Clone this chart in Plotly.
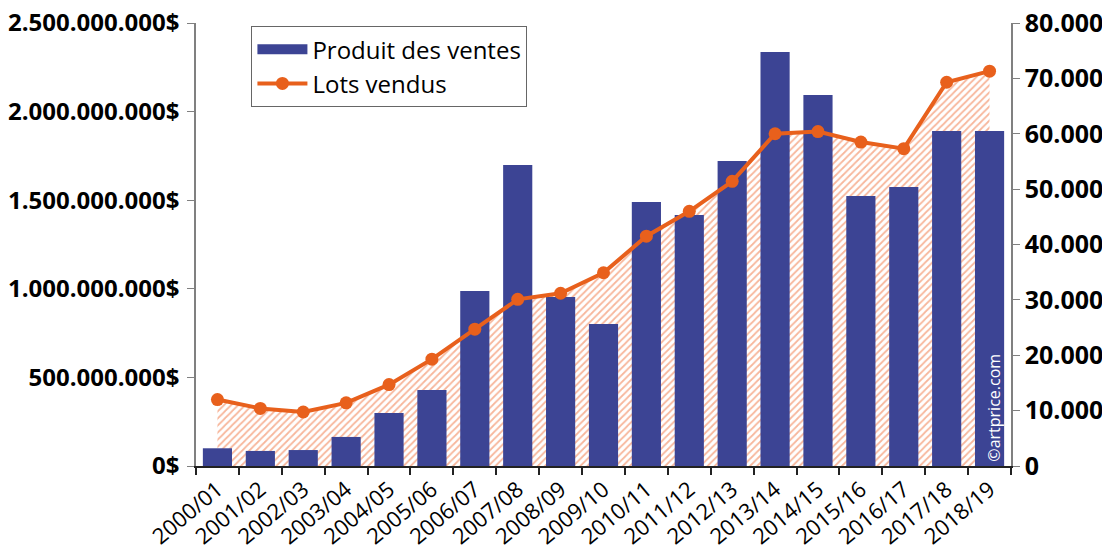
import plotly.graph_objects as go

categories = ["2000/01", "2001/02", "2002/03", "2003/04", "2004/05", "2005/06", "2006/07",
              "2007/08", "2008/09", "2009/10", "2010/11", "2011/12", "2012/13", "2013/14",
              "2014/15", "2015/16", "2016/17", "2017/18", "2018/19"]
produit_ventes = [100e6, 85e6, 90e6, 164e6, 299e6, 429e6, 988e6, 1699e6, 954e6, 801e6,
                  1490e6, 1416e6, 1721e6, 2336e6, 2094e6, 1524e6, 1575e6, 1890e6, 1890e6]
lots_vendus = [12000, 10400, 9750, 11400, 14700, 19300, 24700, 30100, 31200, 34900,
               41500, 46000, 51400, 60000, 60400, 58500, 57300, 69300, 71300]
money_ticks = [0, 5e8, 1e9, 1.5e9, 2e9, 2.5e9]
money_labels = ["0$", "500.000.000$", "1.000.000.000$", "1.500.000.000$",
                "2.000.000.000$", "2.500.000.000$"]
lots_ticks = [0, 10000, 20000, 30000, 40000, 50000, 60000, 70000, 80000]

BLUE = "#3C4494"
ORANGE = "#E8601C"
FONT = "Open Sans"

fig = go.Figure()

# hatched area under the line (bottom layer, primary axis = lots, right side)
fig.add_trace(go.Scatter(
    x=categories, y=lots_vendus, yaxis="y", mode="none", fill="tozeroy",
    fillcolor="rgba(0,0,0,0)",
    fillpattern=dict(shape="/", fgcolor="#EF6E38", bgcolor="rgba(255,255,255,0)",
                     size=5, solidity=0.35),
    showlegend=False, hoverinfo="skip"))

# bars (money, left axis)
fig.add_trace(go.Bar(
    x=categories, y=produit_ventes, yaxis="y2", name="Produit des ventes",
    showlegend=False,
    marker=dict(color=BLUE, line=dict(width=0))))

# legend-only entry giving the wide rectangle swatch
fig.add_trace(go.Scatter(
    x=[None], y=[None], yaxis="y2", mode="lines", name="Produit des ventes",
    line=dict(color=BLUE, width=15), hoverinfo="skip"))

# line with markers (lots, overlay matching primary)
fig.add_trace(go.Scatter(
    x=categories, y=lots_vendus, yaxis="y3", name="Lots vendus", mode="lines+markers",
    line=dict(color=ORANGE, width=4), marker=dict(color=ORANGE, size=13)))

fig.update_layout(
    width=1102, height=548,
    margin=dict(l=196, r=91, t=23, b=82, autoexpand=False),
    paper_bgcolor="white", plot_bgcolor="white",
    bargap=0.32,
    font=dict(family=FONT, color="black"),
    showlegend=True,
    legend=dict(x=0.068, y=0.993, xanchor="left", yanchor="top", xref="paper",
                bgcolor="white", bordercolor="#666666", borderwidth=1,
                font=dict(family=FONT, size=24, color="black"),
                traceorder="normal", itemwidth=50, tracegroupgap=0),
    xaxis=dict(type="category", tickson="boundaries", ticks="outside", ticklen=7,
               tickwidth=2, tickcolor="#222222", showline=True, linecolor="#222222",
               linewidth=2, showgrid=False, tickangle=-40, automargin=False,
               ticklabeloverflow="allow",
               tickfont=dict(family=FONT, size=22, color="black"),
               range=[-0.5, len(categories) - 0.5]),
    yaxis=dict(side="right", range=[0, 80000], tickvals=lots_ticks, tickformat=",d",
               showgrid=False, automargin=False, ticklabeloverflow="allow",
               zeroline=False, showline=True, linecolor="#808080", linewidth=1.5,
               ticks="outside", ticklen=7, tickcolor="#808080",
               tickfont=dict(family=FONT, size=25, color="black", weight="bold")),
    separators=",.",
    yaxis2=dict(side="left", overlaying="y", range=[0, 2.5e9], automargin=False,
                tickvals=money_ticks, ticktext=money_labels, ticklabeloverflow="allow",
                showgrid=False, zeroline=False, showline=True, linecolor="#808080",
                linewidth=1.5, ticks="outside", ticklen=7, tickcolor="#808080",
                ticklabelstandoff=3,
                tickfont=dict(family=FONT, size=24, color="black", weight="bold")),
    yaxis3=dict(overlaying="y", matches="y", range=[0, 80000], visible=False,
                automargin=False),
    annotations=[dict(text="©artprice.com", textangle=-90, xref="paper", yref="paper",
                      x=0.979, y=0.005, xanchor="center", yanchor="bottom",
                      showarrow=False, font=dict(family=FONT, size=16, color="white"))],
)

fig.write_html("out.html", config={"displayModeBar": False},
               post_script="document.body.style.margin='0';")
